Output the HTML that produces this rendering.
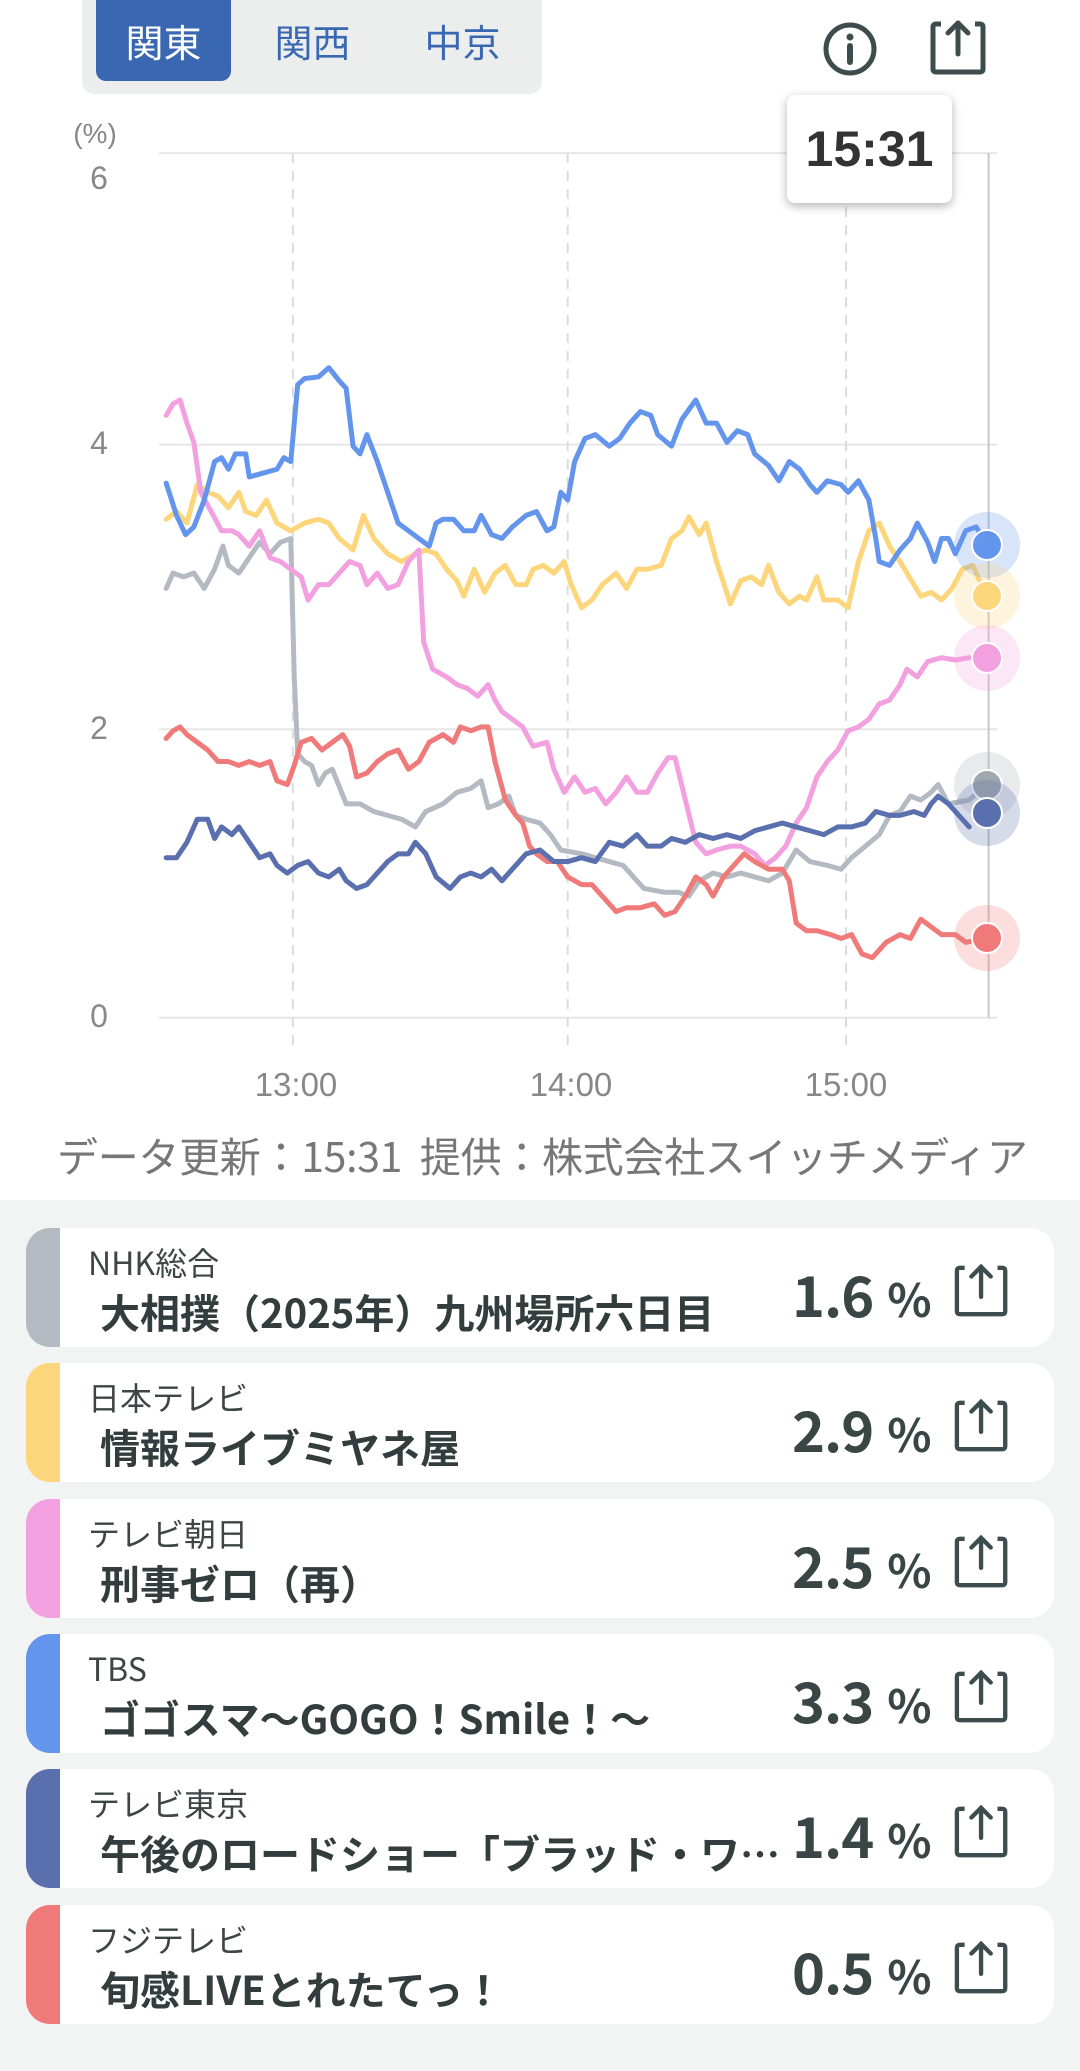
<!DOCTYPE html>
<html><head><meta charset="utf-8"><style>
*{margin:0;padding:0;box-sizing:border-box}
body{width:1080px;height:2071px;background:#fff;font-family:"Liberation Sans","Noto Sans CJK JP",sans-serif;position:relative;overflow:hidden;color:#333d3d}
.abs{position:absolute}
.tabs{left:82px;top:0;width:460px;height:94px;background:#eceeee;border-radius:0 0 12px 12px}
.tab{position:absolute;top:0;height:81px;width:135px;font-size:38px;line-height:81px;text-align:center;color:#3a67b1;font-family:"Noto Sans CJK JP",sans-serif}
.tab.on{background:#3a67b1;color:#fff;border-radius:0 0 10px 10px;left:14px}
.yl{font-size:32px;color:#888;width:40px;text-align:center;left:79px}
.xl{font-size:33px;color:#888;width:140px;text-align:center;top:1066px}
.foot{left:57px;top:1124px;font-size:41px;color:#777;white-space:nowrap;font-family:"Noto Sans CJK JP",sans-serif;letter-spacing:-0.3px}
.gray{left:0;top:1200px;width:1080px;height:871px;background:#f2f4f3}
.card{left:26px;width:1028px;height:119px;background:#fff;border-radius:24px;overflow:hidden}
.bar{position:absolute;left:0;top:0;width:34px;height:119px}
.ch{position:absolute;left:62px;top:14px;font-size:32px;color:#3d4545;font-family:"Noto Sans CJK JP",sans-serif;line-height:40px}
.ti{position:absolute;left:74px;top:56px;font-size:40px;font-weight:bold;color:#333d3d;font-family:"Noto Sans CJK JP",sans-serif;line-height:54px;white-space:nowrap;width:720px;overflow:hidden}
.pc{position:absolute;left:766px;top:28px;font-size:56px;font-weight:bold;color:#3a4545;font-family:"Noto Sans CJK JP",sans-serif;line-height:76px;white-space:nowrap;letter-spacing:-1px}
.pc span{font-size:46px;font-weight:bold;margin-left:14px}
.sh{position:absolute;left:928px;top:34px}
</style></head><body>
<div class="abs tabs">
<div class="tab on">関東</div>
<div class="tab" style="left:163px">関西</div>
<div class="tab" style="left:313px">中京</div>
</div>
<svg class="abs" style="left:820px;top:20px" width="60" height="60" viewBox="0 0 60 60"><circle cx="30" cy="29" r="24" fill="none" stroke="#3d4d4d" stroke-width="5"/><circle cx="30" cy="17" r="3.5" fill="#3d4d4d"/><line x1="30" y1="26" x2="30" y2="42" stroke="#3d4d4d" stroke-width="6" stroke-linecap="round"/></svg>
<svg class="abs" style="left:930px;top:18px" width="60" height="60" viewBox="0 0 60 60"><path d="M11 6 H6 Q3 6 3 9 V51 Q3 54 6 54 H50 Q53 54 53 51 V9 Q53 6 50 6 H45" fill="none" stroke="#3d4d4d" stroke-width="5" stroke-linejoin="round"/><line x1="28" y1="5" x2="28" y2="36" stroke="#3d4d4d" stroke-width="5" stroke-linecap="round"/><path d="M18 15 L28 5 L38 15" fill="none" stroke="#3d4d4d" stroke-width="5" stroke-linecap="round" stroke-linejoin="round"/></svg>

<div class="abs yl" style="top:118px;font-size:28px;left:60px;width:70px">(%)</div>
<div class="abs yl" style="top:160px">6</div>
<div class="abs yl" style="top:425px">4</div>
<div class="abs yl" style="top:710px">2</div>
<div class="abs yl" style="top:998px">0</div>

<svg class="abs" style="left:0;top:0" width="1080" height="1200" viewBox="0 0 1560 1560" preserveAspectRatio="none">
<g stroke="#e6e6e6" stroke-width="2">
<line x1="230" y1="199" x2="1440" y2="199" vector-effect="non-scaling-stroke"/>
<line x1="230" y1="578" x2="1440" y2="578" vector-effect="non-scaling-stroke"/>
<line x1="230" y1="948" x2="1440" y2="948" vector-effect="non-scaling-stroke"/>
<line x1="230" y1="1323" x2="1440" y2="1323" vector-effect="non-scaling-stroke"/>
</g>
<g stroke="#dcdcdc" stroke-width="2" stroke-dasharray="10 8" fill="none">
<line x1="423" y1="199" x2="423" y2="1365" vector-effect="non-scaling-stroke"/>
<line x1="820" y1="199" x2="820" y2="1365" vector-effect="non-scaling-stroke"/>
<line x1="1222" y1="199" x2="1222" y2="1365" vector-effect="non-scaling-stroke"/>
</g>
<line x1="1428" y1="199" x2="1428" y2="1323" stroke="#c8c8c8" stroke-width="2" vector-effect="non-scaling-stroke"/>
<g fill="none" stroke-width="5" stroke-linejoin="round" stroke-linecap="round">
<polyline vector-effect="non-scaling-stroke" stroke="#fdd57a" points="240,675 255,665 270,680 285,630 300,640 315,645 330,660 345,640 355,665 370,670 385,650 400,680 420,690 440,680 460,675 475,680 490,700 510,715 525,670 540,700 560,720 580,730 600,720 615,715 630,720 645,740 660,755 670,775 685,740 700,770 715,745 730,735 745,760 760,760 770,740 785,735 800,745 815,730 825,760 840,790 855,780 870,760 890,745 905,765 920,740 935,740 955,735 970,700 985,690 995,672 1010,695 1020,680 1035,730 1055,785 1070,755 1085,750 1100,760 1110,735 1125,770 1140,785 1155,775 1165,780 1180,750 1190,780 1210,780 1225,790 1240,730 1255,690 1270,680 1285,710 1300,730 1320,760 1330,775 1345,770 1360,780 1375,765 1390,740 1405,735 1425,775"/>
<polyline vector-effect="non-scaling-stroke" stroke="#b4bac1" points="240,765 250,745 265,750 280,745 295,765 310,740 322,710 330,735 345,745 360,725 375,705 390,720 405,705 420,700 425,880 430,980 440,990 450,995 460,1020 470,1005 480,1000 500,1045 520,1045 540,1055 560,1060 580,1065 600,1075 615,1055 640,1045 660,1030 680,1025 695,1015 705,1050 720,1045 735,1035 745,1060 760,1065 780,1070 795,1085 810,1105 840,1110 860,1115 880,1120 900,1125 915,1140 930,1155 960,1160 980,1160 995,1165 1010,1145 1030,1135 1050,1140 1070,1135 1090,1140 1110,1145 1130,1135 1150,1105 1170,1120 1195,1125 1215,1130 1230,1115 1250,1100 1270,1085 1285,1060 1300,1055 1315,1035 1330,1040 1345,1030 1355,1020 1370,1045 1400,1040 1425,1020"/>
<polyline vector-effect="non-scaling-stroke" stroke="#f2a0df" points="240,540 250,525 260,520 270,550 280,575 290,640 305,665 320,690 335,690 345,695 360,710 375,690 390,725 405,730 420,740 435,750 445,780 460,760 475,760 490,745 505,730 520,735 530,760 545,745 560,765 575,760 590,730 605,715 612,835 625,870 645,880 660,890 675,895 690,905 705,890 715,910 725,925 740,935 755,945 770,970 790,965 800,1000 815,1030 830,1010 845,1030 860,1025 875,1045 890,1030 905,1010 920,1030 935,1030 950,1005 965,985 975,985 990,1040 1005,1095 1020,1110 1035,1105 1055,1100 1070,1100 1090,1110 1105,1125 1120,1115 1135,1100 1150,1070 1165,1050 1180,1010 1195,990 1210,975 1225,950 1240,945 1255,935 1270,915 1285,910 1300,890 1310,870 1325,880 1340,860 1360,855 1380,858 1400,855 1425,855"/>
<polyline vector-effect="non-scaling-stroke" stroke="#f07a79" points="240,960 250,950 260,945 270,955 285,965 300,975 315,990 330,990 345,995 360,990 375,995 390,990 400,1015 415,1020 425,995 435,965 450,960 465,975 480,965 495,955 505,970 515,1010 530,1005 545,990 560,980 575,975 590,1000 605,990 620,965 640,955 655,965 665,945 680,950 695,945 705,945 715,990 730,1040 745,1060 755,1070 765,1100 775,1110 790,1120 805,1120 820,1140 840,1150 855,1150 870,1165 890,1185 905,1180 925,1180 945,1175 960,1190 975,1185 990,1165 1005,1140 1020,1150 1030,1165 1045,1140 1060,1125 1075,1110 1090,1120 1110,1130 1130,1130 1140,1145 1150,1200 1165,1210 1180,1210 1200,1215 1215,1220 1230,1215 1245,1240 1260,1245 1280,1225 1300,1215 1315,1220 1330,1195 1345,1205 1360,1215 1380,1215 1395,1225 1425,1220"/>
<polyline vector-effect="non-scaling-stroke" stroke="#5a6fad" points="240,1115 255,1115 270,1095 285,1065 300,1065 310,1090 320,1075 335,1085 345,1075 360,1095 375,1115 390,1110 400,1125 415,1135 430,1125 445,1120 460,1135 475,1140 490,1130 500,1145 515,1155 530,1150 545,1135 560,1120 575,1110 590,1110 600,1095 615,1110 630,1140 650,1155 665,1140 680,1135 695,1140 710,1130 725,1145 740,1130 760,1110 780,1105 800,1120 820,1120 840,1115 860,1120 880,1095 900,1100 920,1085 935,1100 955,1100 970,1090 990,1095 1010,1085 1030,1090 1050,1085 1070,1090 1090,1080 1110,1075 1130,1070 1150,1075 1170,1080 1190,1085 1210,1075 1230,1075 1250,1070 1265,1055 1285,1060 1300,1060 1320,1055 1335,1060 1345,1045 1355,1035 1370,1045 1385,1060 1400,1075"/>
<polyline vector-effect="non-scaling-stroke" stroke="#6495ec" points="240,628 255,670 268,695 280,685 295,650 310,600 320,595 330,610 340,590 355,590 360,620 380,615 400,610 410,595 420,600 430,500 440,492 460,490 475,478 490,495 500,505 510,580 520,590 530,565 545,600 560,640 575,680 590,690 605,700 620,710 630,680 640,675 655,675 670,690 685,690 695,670 710,695 725,700 740,685 760,670 775,665 790,690 800,685 810,640 820,650 830,600 845,570 860,565 880,580 895,570 910,550 925,535 940,540 950,565 970,580 985,545 1005,520 1020,550 1035,550 1050,575 1065,560 1080,565 1090,590 1110,605 1125,625 1140,600 1155,610 1170,630 1180,640 1195,625 1215,630 1225,640 1240,625 1255,650 1265,700 1270,730 1285,735 1300,715 1315,700 1325,680 1340,705 1350,730 1360,700 1370,700 1380,720 1395,690 1410,685 1425,708"/>
</g>
</svg>

<svg class="abs" style="left:0;top:0" width="1080" height="1200">
<g stroke="#fff" stroke-width="2">
<circle cx="987" cy="545" r="33" fill="#6495ec" fill-opacity="0.25" stroke="none"/><circle cx="987" cy="545" r="15" fill="#6495ec"/>
<circle cx="987" cy="596" r="33" fill="#fdd57a" fill-opacity="0.25" stroke="none"/><circle cx="987" cy="596" r="15" fill="#fdd57a"/>
<circle cx="987" cy="658" r="33" fill="#f2a0df" fill-opacity="0.25" stroke="none"/><circle cx="987" cy="658" r="15" fill="#f2a0df"/>
<circle cx="987" cy="785" r="33" fill="#b4bac1" fill-opacity="0.3" stroke="none"/><circle cx="987" cy="785" r="15" fill="#a0a7ae"/>
<circle cx="987" cy="813" r="33" fill="#5a6fad" fill-opacity="0.25" stroke="none"/><circle cx="987" cy="813" r="15" fill="#5a6fad"/>
<circle cx="987" cy="938" r="33" fill="#f07a79" fill-opacity="0.25" stroke="none"/><circle cx="987" cy="938" r="15" fill="#f07a79"/>
</g>
</svg>

<div class="abs" style="left:787px;top:95px;width:165px;height:108px;background:#fff;border-radius:8px;box-shadow:0 3px 10px rgba(0,0,0,0.3);font-size:50px;font-weight:bold;color:#333;text-align:center;line-height:108px">15:31</div>

<div class="abs xl" style="left:226px">13:00</div>
<div class="abs xl" style="left:501px">14:00</div>
<div class="abs xl" style="left:776px">15:00</div>
<div class="abs foot">データ更新：15:31&nbsp; 提供：株式会社スイッチメディア</div>

<div class="abs gray"></div>

<div class="abs card" style="top:1228px"><div class="bar" style="background:#b4bac1"></div><div class="ch">NHK総合</div><div class="ti">大相撲（2025年）九州場所六日目</div><div class="pc">1.6<span>%</span></div>
<svg class="sh" width="58" height="58" viewBox="0 0 60 60"><path d="M11 6 H6 Q3 6 3 9 V51 Q3 54 6 54 H50 Q53 54 53 51 V9 Q53 6 50 6 H45" fill="none" stroke="#3d4d4d" stroke-width="4.5"/><line x1="28" y1="5" x2="28" y2="36" stroke="#3d4d4d" stroke-width="4.5" stroke-linecap="round"/><path d="M18 15 L28 5 L38 15" fill="none" stroke="#3d4d4d" stroke-width="4.5" stroke-linecap="round"/></svg></div>

<div class="abs card" style="top:1363px"><div class="bar" style="background:#fdd57a"></div><div class="ch">日本テレビ</div><div class="ti">情報ライブミヤネ屋</div><div class="pc">2.9<span>%</span></div>
<svg class="sh" width="58" height="58" viewBox="0 0 60 60"><path d="M11 6 H6 Q3 6 3 9 V51 Q3 54 6 54 H50 Q53 54 53 51 V9 Q53 6 50 6 H45" fill="none" stroke="#3d4d4d" stroke-width="4.5"/><line x1="28" y1="5" x2="28" y2="36" stroke="#3d4d4d" stroke-width="4.5" stroke-linecap="round"/><path d="M18 15 L28 5 L38 15" fill="none" stroke="#3d4d4d" stroke-width="4.5" stroke-linecap="round"/></svg></div>

<div class="abs card" style="top:1499px"><div class="bar" style="background:#f2a0df"></div><div class="ch">テレビ朝日</div><div class="ti">刑事ゼロ（再）</div><div class="pc">2.5<span>%</span></div>
<svg class="sh" width="58" height="58" viewBox="0 0 60 60"><path d="M11 6 H6 Q3 6 3 9 V51 Q3 54 6 54 H50 Q53 54 53 51 V9 Q53 6 50 6 H45" fill="none" stroke="#3d4d4d" stroke-width="4.5"/><line x1="28" y1="5" x2="28" y2="36" stroke="#3d4d4d" stroke-width="4.5" stroke-linecap="round"/><path d="M18 15 L28 5 L38 15" fill="none" stroke="#3d4d4d" stroke-width="4.5" stroke-linecap="round"/></svg></div>

<div class="abs card" style="top:1634px"><div class="bar" style="background:#6495ec"></div><div class="ch">TBS</div><div class="ti">ゴゴスマ～GOGO！Smile！～</div><div class="pc">3.3<span>%</span></div>
<svg class="sh" width="58" height="58" viewBox="0 0 60 60"><path d="M11 6 H6 Q3 6 3 9 V51 Q3 54 6 54 H50 Q53 54 53 51 V9 Q53 6 50 6 H45" fill="none" stroke="#3d4d4d" stroke-width="4.5"/><line x1="28" y1="5" x2="28" y2="36" stroke="#3d4d4d" stroke-width="4.5" stroke-linecap="round"/><path d="M18 15 L28 5 L38 15" fill="none" stroke="#3d4d4d" stroke-width="4.5" stroke-linecap="round"/></svg></div>

<div class="abs card" style="top:1769px"><div class="bar" style="background:#5a6fad"></div><div class="ch">テレビ東京</div><div class="ti" style="width:700px">午後のロードショー「ブラッド・ワ…</div><div class="pc">1.4<span>%</span></div>
<svg class="sh" width="58" height="58" viewBox="0 0 60 60"><path d="M11 6 H6 Q3 6 3 9 V51 Q3 54 6 54 H50 Q53 54 53 51 V9 Q53 6 50 6 H45" fill="none" stroke="#3d4d4d" stroke-width="4.5"/><line x1="28" y1="5" x2="28" y2="36" stroke="#3d4d4d" stroke-width="4.5" stroke-linecap="round"/><path d="M18 15 L28 5 L38 15" fill="none" stroke="#3d4d4d" stroke-width="4.5" stroke-linecap="round"/></svg></div>

<div class="abs card" style="top:1905px"><div class="bar" style="background:#f07a79"></div><div class="ch">フジテレビ</div><div class="ti">旬感LIVEとれたてっ！</div><div class="pc">0.5<span>%</span></div>
<svg class="sh" width="58" height="58" viewBox="0 0 60 60"><path d="M11 6 H6 Q3 6 3 9 V51 Q3 54 6 54 H50 Q53 54 53 51 V9 Q53 6 50 6 H45" fill="none" stroke="#3d4d4d" stroke-width="4.5"/><line x1="28" y1="5" x2="28" y2="36" stroke="#3d4d4d" stroke-width="4.5" stroke-linecap="round"/><path d="M18 15 L28 5 L38 15" fill="none" stroke="#3d4d4d" stroke-width="4.5" stroke-linecap="round"/></svg></div>
</body></html>
